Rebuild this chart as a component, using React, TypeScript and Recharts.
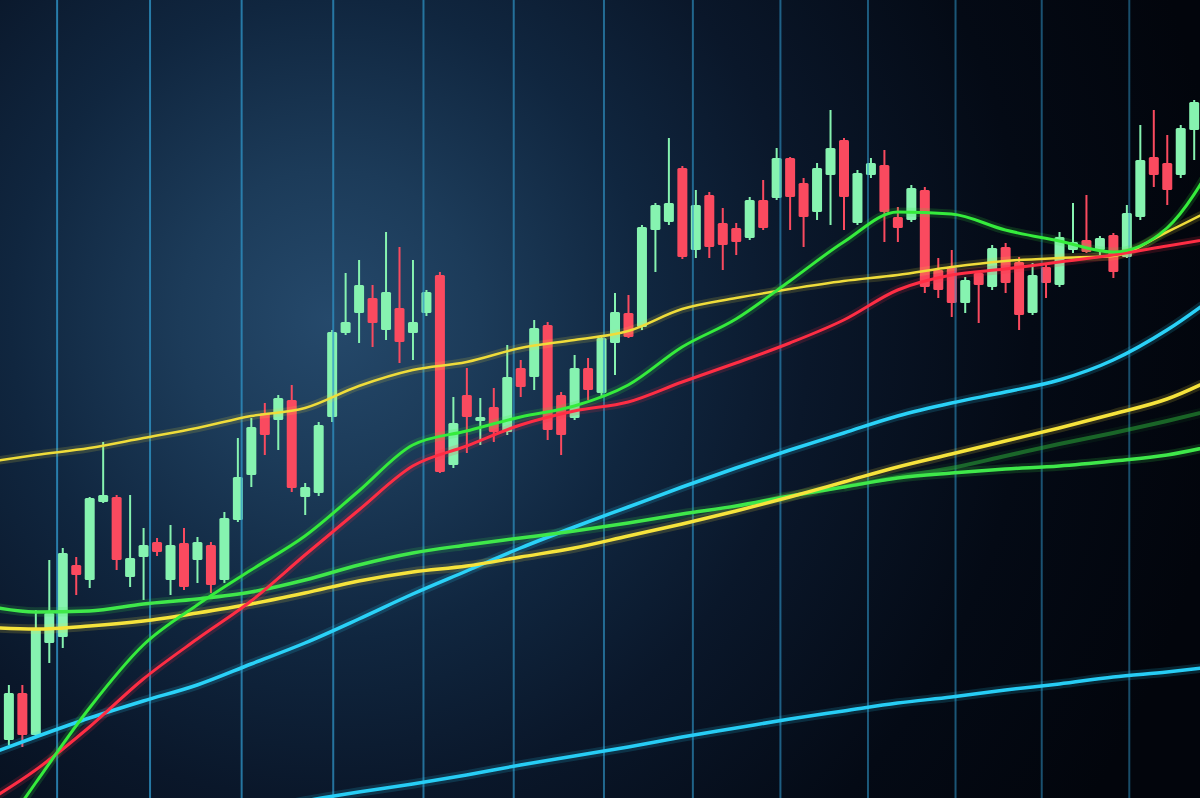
import { ComposedChart, Bar, Line, XAxis, YAxis, ReferenceLine } from 'recharts';

// candle prices, one entry per session (index = session number)
const opens = [
  5.8, 10.5, 6.3, 15.5, 16.1, 23.3, 21.8, 29.6, 30.1, 22.1,
  24.1, 25.6, 21.8, 25.5, 23.8, 25.3, 21.8, 27.8, 32.3, 38.5,
  37.8, 39.8, 30.1, 30.5, 38.1, 46.5, 48.5, 50.0, 46.8, 49.0,
  46.5, 48.5, 52.3, 33.3, 40.3, 37.7, 39.1, 36.6, 43.0, 42.1,
  47.3, 40.3, 38.0, 43.0, 40.5, 45.5, 48.5, 47.1, 56.8, 57.6,
  63.0, 54.8, 60.3, 57.5, 57.0, 56.0, 59.8, 60.0, 64.0, 61.5,
  58.6, 62.3, 65.8, 57.5, 62.3, 63.3, 58.1, 57.8, 60.8, 52.8,
  53.1, 49.5, 52.5, 51.1, 55.1, 53.6, 48.5, 53.1, 51.3, 54.8,
  55.8, 54.8, 56.3, 54.1, 58.1, 64.1, 63.5, 62.3, 66.8, 69.5,
];
const highs = [
  11.3, 11.3, 18.8, 23.8, 25.0, 24.1, 30.1, 35.6, 30.3, 30.3,
  27.0, 26.0, 27.3, 27.0, 26.1, 25.6, 28.6, 36.0, 38.0, 39.5,
  40.3, 41.3, 31.5, 37.6, 46.8, 52.5, 53.8, 51.3, 56.6, 55.1,
  53.8, 50.8, 52.6, 40.1, 43.0, 40.0, 41.0, 45.3, 43.8, 47.8,
  47.6, 40.6, 44.3, 44.0, 46.3, 50.5, 50.3, 57.3, 59.5, 66.0,
  63.2, 60.8, 60.6, 59.0, 57.5, 60.1, 61.8, 65.0, 64.1, 62.0,
  63.5, 68.8, 66.0, 62.8, 64.0, 64.8, 59.1, 61.3, 61.1, 54.0,
  54.8, 52.1, 52.6, 55.3, 55.5, 54.1, 53.5, 53.5, 56.6, 59.5,
  60.3, 56.2, 56.5, 59.3, 67.3, 68.8, 66.3, 67.3, 69.8, 73.6,
];
const lows = [
  5.3, 5.1, 6.1, 13.5, 15.0, 20.3, 21.0, 29.5, 22.8, 21.1,
  19.8, 24.2, 20.3, 20.8, 21.5, 20.5, 21.5, 27.6, 31.1, 34.3,
  34.8, 30.6, 28.3, 30.2, 37.6, 46.3, 45.5, 45.1, 45.8, 43.5,
  43.8, 48.2, 32.5, 33.0, 34.5, 35.3, 35.6, 36.3, 40.1, 40.8,
  35.8, 34.3, 37.8, 39.8, 40.2, 42.3, 46.0, 46.8, 52.6, 57.3,
  53.9, 54.0, 54.0, 52.8, 54.3, 55.8, 56.8, 59.8, 56.8, 55.1,
  57.8, 57.3, 56.8, 57.3, 62.0, 55.6, 55.6, 57.6, 50.5, 50.0,
  48.1, 48.5, 47.5, 50.8, 50.5, 46.8, 48.3, 50.0, 51.1, 54.5,
  54.5, 54.3, 52.0, 54.0, 57.8, 61.1, 59.3, 62.0, 63.8, 69.3,
];
const closes = [
  10.5, 6.3, 17.0, 18.5, 24.5, 22.3, 30.0, 30.3, 23.8, 24.0,
  25.3, 24.6, 25.3, 21.1, 25.6, 21.3, 28.0, 32.1, 37.1, 36.3,
  40.0, 31.0, 31.1, 37.3, 46.6, 47.6, 51.3, 47.5, 50.6, 45.6,
  47.6, 50.6, 32.6, 37.5, 38.1, 38.1, 36.6, 42.1, 41.1, 47.0,
  36.8, 36.3, 43.0, 40.8, 46.0, 48.6, 46.1, 57.1, 59.3, 59.5,
  54.1, 59.3, 55.1, 55.3, 55.6, 59.8, 57.0, 64.0, 60.1, 58.1,
  63.0, 65.0, 60.1, 62.5, 63.5, 58.6, 57.0, 61.0, 51.1, 50.8,
  49.5, 51.8, 51.3, 55.0, 51.5, 48.3, 52.3, 51.5, 56.1, 55.6,
  54.6, 56.0, 52.6, 58.5, 63.8, 62.3, 60.8, 67.0, 69.6, 73.1,
];

// moving averages, sampled every 4 sessions
const maSessions = [-2, 2, 6, 10, 14, 18, 22, 26, 30, 34, 38, 42, 46, 50, 54, 58, 62, 66, 70, 74, 78, 82, 86, 90];
const _ = null;
const maUpperYellow = [33.5, 34.3, 35.0, 36.0, 37.0, 38.2, 39.0, 41.2, 42.8, 43.6, 45.0, 45.8, 46.7, 48.9, 50.0, 50.9, 51.7, 52.3, 53.1, 53.7, 54.0, 54.2, 56.6, 59.3];
const maFastGreen = [-6.2, 1.5, 9.0, 15.3, 19.3, 22.8, 26.2, 30.7, 35.3, 36.7, 38.1, 39.2, 41.3, 45.1, 47.9, 51.7, 55.6, 58.6, 58.4, 56.8, 55.7, 54.6, 57.0, 64.8];
const maRed = [-0.7, 2.8, 7.1, 11.9, 15.9, 19.7, 24.3, 28.8, 33.2, 35.2, 37.3, 38.7, 39.6, 41.6, 43.5, 45.5, 47.8, 50.8, 52.3, 52.9, 53.6, 54.3, 55.2, 56.1];
const maLowGreen = [19.3, 18.6, 18.7, 19.4, 19.9, 20.6, 21.8, 23.3, 24.5, 25.3, 26.0, 26.7, 27.5, 28.4, 29.2, 30.2, 31.1, 32.0, 32.5, 32.9, 33.2, 33.7, 34.3, 35.4];
const maLowYellow = [17.1, 16.9, 17.2, 17.7, 18.5, 19.4, 20.5, 21.7, 22.6, 23.2, 24.1, 25.0, 26.2, 27.4, 28.7, 30.1, 31.6, 33.1, 34.4, 35.7, 37.0, 38.4, 39.9, 42.3];
const maFaintGreen = [_, _, _, _, _, _, _, _, _, _, _, _, _, _, _, _, 31.1, 32.1, 33.0, 34.2, 35.4, 36.5, 37.7, 39.0];
const maCyan = [4.1, 6.1, 8.0, 9.7, 11.3, 13.4, 15.5, 17.9, 20.4, 22.7, 25.0, 27.1, 29.1, 31.1, 33.0, 34.8, 36.5, 38.2, 39.5, 40.6, 41.8, 43.8, 46.8, 50.6];
const maLowCyan = [_, _, _, _, _, -1.4, -0.3, 0.6, 1.4, 2.3, 3.3, 4.2, 5.1, 6.1, 7.0, 7.9, 8.7, 9.5, 10.1, 10.8, 11.4, 12.1, 12.6, 13.2];

// vertical time grid
const gridTicks = [3.6, 10.5, 17.3, 24.1, 30.8, 37.5, 44.2, 50.8, 57.3, 63.8, 70.3, 76.7, 83.2];

const GREEN = '#86f3b0';
const RED = '#fa4a5f';

const maSeries = [
  { key: 'lowCyan', values: maLowCyan, color: '#27cdf5', width: 3.5, opacity: 1 },
  { key: 'cyan', values: maCyan, color: '#2ad2f8', width: 3.5, opacity: 1 },
  { key: 'faintGreen', values: maFaintGreen, color: '#2aa838', width: 4, opacity: 0.55 },
  { key: 'lowGreen', values: maLowGreen, color: '#3fe84a', width: 3.5, opacity: 1 },
  { key: 'lowYellow', values: maLowYellow, color: '#f6e33c', width: 3.5, opacity: 1 },
  { key: 'upYellow', values: maUpperYellow, color: '#efdc3a', width: 2.5, opacity: 1 },
  { key: 'red', values: maRed, color: '#ff2d44', width: 3, opacity: 1 },
  { key: 'green', values: maFastGreen, color: '#35ec3c', width: 3, opacity: 1 },
];

const rows: any[] = [];
for (let i = -2; i <= 90; i++) {
  const row: any = { i };
  if (i >= 0 && i < opens.length) {
    row.o = opens[i];
    row.h = highs[i];
    row.l = lows[i];
    row.c = closes[i];
  }
  const k = maSessions.indexOf(i);
  if (k >= 0) {
    maSeries.forEach((s) => {
      if (s.values[k] != null) row[s.key] = s.values[k];
    });
  }
  rows.push(row);
}

const Candle = (props: any) => {
  const { x, y, width, height, payload } = props;
  if (!payload || payload.h == null) return null;
  const { o, h, l, c } = payload;
  const color = c >= o ? GREEN : RED;
  const top = Math.min(y, y + height);
  const span = Math.abs(height);
  const k = h === l ? 0 : span / (h - l);
  const bodyTop = top + (h - Math.max(o, c)) * k;
  const bodyBot = top + (h - Math.min(o, c)) * k;
  const cx = x + width / 2;
  return (
    <g>
      <line x1={cx} x2={cx} y1={top} y2={top + span} stroke={color} strokeWidth={2} />
      <rect x={x} y={bodyTop} width={width} height={Math.max(bodyBot - bodyTop, 2.5)} fill={color} rx={1.5} />
    </g>
  );
};

export default function App() {
  return (
    <div
      style={{
        width: 1200,
        height: 798,
        overflow: 'hidden',
        background:
          'radial-gradient(circle at 330px 320px, #25496b 0px, #1c3b59 150px, #10263f 320px, #0a172a 480px, #040a15 700px, #02050c 900px)',
      }}
    >
      <style>{'body{margin:0}'}</style>
      <ComposedChart width={1200} height={798} data={rows} margin={{ top: 0, right: 0, bottom: 0, left: 0 }}>
        <XAxis dataKey="i" type="number" domain={[-0.64, 88.45]} allowDataOverflow hide />
        <YAxis type="number" domain={[0, 79.8]} allowDataOverflow hide />
        {gridTicks.map((t, n) => (
          <ReferenceLine
            key={'g' + t}
            x={t}
            stroke="#2f95c8"
            strokeWidth={2}
            strokeOpacity={0.8 - n * 0.025}
          />
        ))}
        <Bar
          dataKey={(d: any) => (d.h != null ? [d.l, d.h] : null)}
          barSize={10}
          shape={Candle}
          isAnimationActive={false}
        />
        {maSeries.map((s) => (
          <Line
            key={s.key + '-glow'}
            dataKey={s.key}
            type="monotone"
            stroke={s.color}
            strokeWidth={s.width + 6}
            strokeOpacity={0.16 * s.opacity}
            dot={false}
            activeDot={false}
            connectNulls
            isAnimationActive={false}
          />
        ))}
        {maSeries.map((s) => (
          <Line
            key={s.key}
            dataKey={s.key}
            type="monotone"
            stroke={s.color}
            strokeWidth={s.width}
            strokeOpacity={s.opacity}
            dot={false}
            activeDot={false}
            connectNulls
            isAnimationActive={false}
          />
        ))}
      </ComposedChart>
    </div>
  );
}
